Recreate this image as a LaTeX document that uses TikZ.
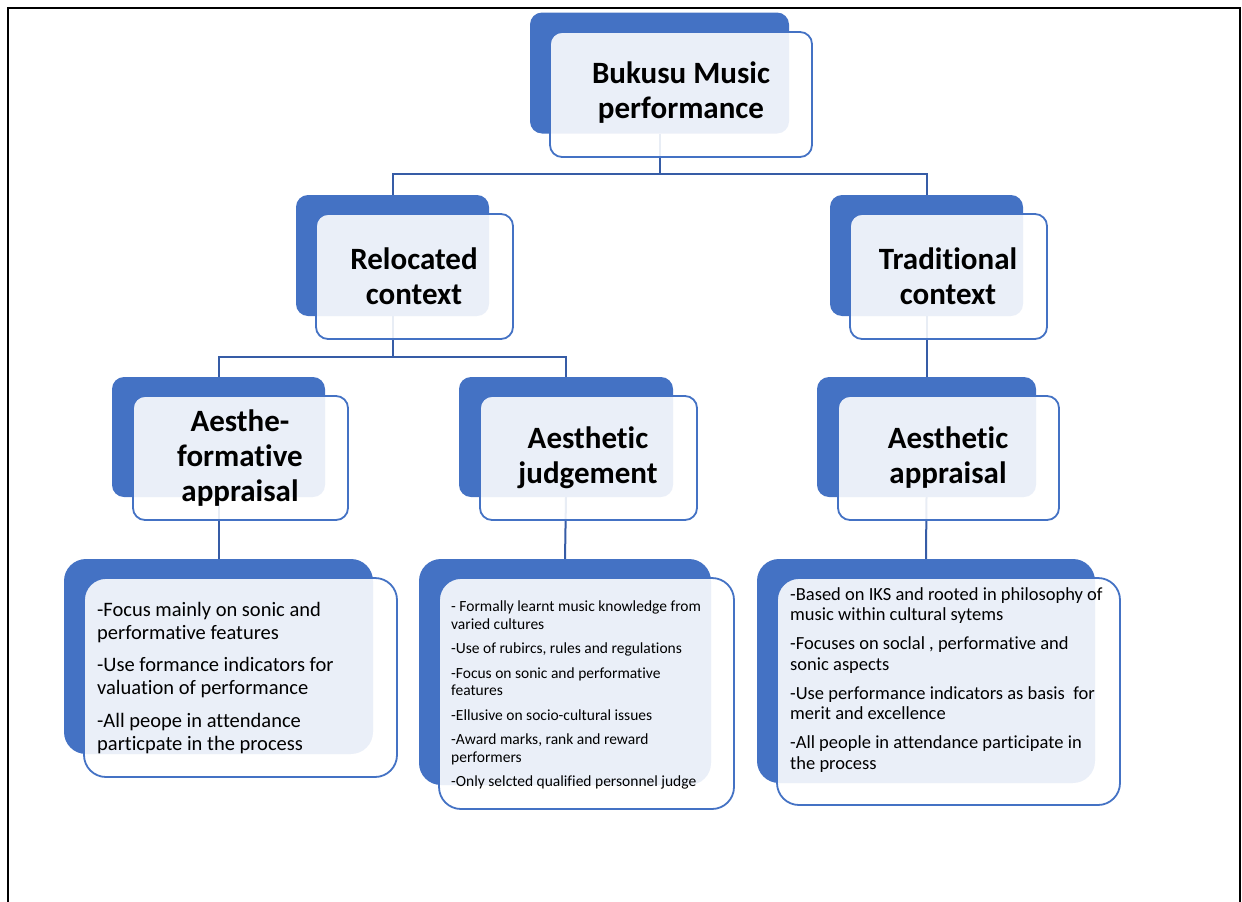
\documentclass[tikz,border=0pt]{standalone}
\usepackage{fontspec}
\setmainfont{Carlito}[Ligatures={NoCommon,NoRare,NoContextual}]
\definecolor{accent}{HTML}{4472C4}
\definecolor{linkblue}{HTML}{365CA6}
\begin{document}
\begin{tikzpicture}[x=1pt,y=-1pt,
  back/.style={draw=none,fill=accent,rounded corners=12pt,inner sep=0pt},
  front/.style={draw=accent,line width=1.8pt,fill=white,fill opacity=0.89,rounded corners=12pt,inner sep=0pt},
  backbig/.style={back,rounded corners=22pt},
  frontbig/.style={front,rounded corners=22pt},
  head/.style={align=center,font=\fontsize{31}{35}\selectfont\bfseries,inner sep=0pt},
  link/.style={draw=linkblue,line width=2pt},
  body/.style={align=left,anchor=north west,inner sep=0pt}]
\useasboundingbox (0,0) rectangle (1242,902);
\draw[line width=2pt] (8,920) -- (8,8) -- (1240,8) -- (1240,920);

% back plates
\node[back,minimum width=259pt,minimum height=121pt] (b0) at (659.5,73) {};
\node[back,minimum width=193pt,minimum height=121pt] (b1) at (392.5,255.5) {};
\node[back,minimum width=193pt,minimum height=121pt] (b2) at (926.5,255.5) {};
\node[back,minimum width=213pt,minimum height=120pt] (b3) at (218.5,437) {};
\node[back,minimum width=214pt,minimum height=120pt] (b4) at (566,437) {};
\node[back,minimum width=219pt,minimum height=120pt] (b5) at (926.5,437) {};
\node[backbig,minimum width=309pt,minimum height=195pt] (b6) at (218.5,656.5) {};
\node[backbig,minimum width=292pt,minimum height=226pt] (b7) at (565,672) {};
\node[backbig,minimum width=338pt,minimum height=224pt] (b8) at (926,671) {};

% connectors
\draw[link] (b0.south) -- ++(0,40) -| (b1.north);
\draw[link] (b0.south) ++(0,40) -| (b2.north);
\draw[link] (b1.south) -- ++(0,41) -| (b3.north);
\draw[link] (b1.south) ++(0,41) -| (b4.north);
\draw[link] (b2.south) -- (b5.north);
\draw[link] (b3.south) -- (b6.north);
\draw[link] (b4.south) -- (b7.north);
\draw[link] (b5.south) -- (b8.north);

% front panels
\node[front,minimum width=262pt,minimum height=125pt] (f0) at (681,94.5) {};
\node[front,minimum width=197pt,minimum height=125pt] (f1) at (414.5,276.5) {};
\node[front,minimum width=197pt,minimum height=125pt] (f2) at (948.5,276.5) {};
\node[front,minimum width=215pt,minimum height=124pt] (f3) at (240.5,458) {};
\node[front,minimum width=217pt,minimum height=124pt] (f4) at (588.5,458) {};
\node[front,minimum width=221pt,minimum height=124pt] (f5) at (948.5,458) {};
\node[frontbig,minimum width=313pt,minimum height=199pt] (f6) at (240.5,677.5) {};
\node[frontbig,minimum width=295pt,minimum height=231pt] (f7) at (586.5,693.5) {};
\node[frontbig,minimum width=343pt,minimum height=227pt] (f8) at (948.5,691.5) {};

% headings
\node[head] (t0) at (681,93) {Bukusu Music\\performance};
\node[head] (t1) at (414,276) {Relocated\\context};
\node[head] (t2) at (948,276) {Traditional\\context};
\node[head] (t3) at (240,458) {Aesthe-\\formative\\appraisal};
\node[head] (t4) at (588,458) {Aesthetic\\judgement};
\node[head] (t5) at (948,458) {Aesthetic\\appraisal};

% descriptions
\node[body,font=\fontsize{20.5}{23}\selectfont] (d6) at (97,602) {%
-Focus mainly on sonic and\\performative features\\[9.5pt]
-Use formance indicators for\\valuation of performance\\[9.5pt]
-All peope in attendance\\particpate in the process};
\node[body,font=\fontsize{15.5}{17.5}\selectfont] (d7) at (451,601) {%
- Formally learnt music knowledge from\\varied cultures\\[7pt]
-Use of rubircs, rules and regulations\\[7pt]
-Focus on sonic and performative\\features\\[7pt]
-Ellusive on socio-cultural issues\\[7pt]
-Award marks, rank and reward\\performers\\[7pt]
-Only selcted qualified personnel judge};
\node[body,font=\fontsize{18.5}{20.5}\selectfont] (d8) at (790,587) {%
-Based on IKS and rooted in philosophy of\\music within cultural sytems\\[8.5pt]
-Focuses on soclal , performative and\\sonic aspects\\[8.5pt]
-Use performance indicators as basis\ \ for\\merit and excellence\\[8.5pt]
-All people in attendance participate in\\the process};
\end{tikzpicture}
\end{document}
